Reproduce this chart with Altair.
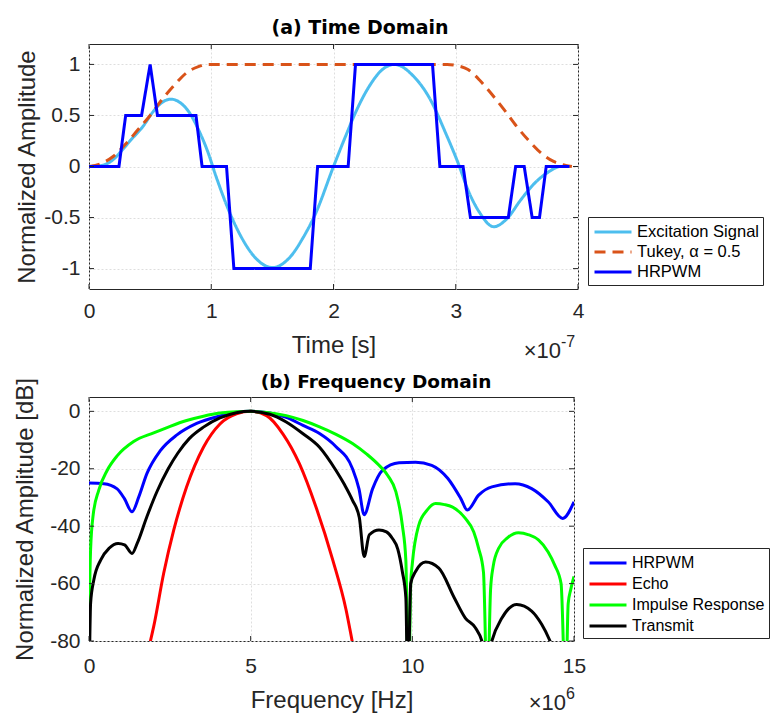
import altair as alt
import pandas as pd

# ---------------- Panel (a): time domain (time in units of 1e-7 s) ----------------
exc_t = [0, 0.1, 0.19, 0.27, 0.35, 0.44, 0.52, 0.6, 0.67, 0.74, 0.82, 0.9, 0.97, 1.04,
         1.15, 1.25, 1.35, 1.5, 1.65, 1.75, 1.85, 2.0, 2.1, 2.2, 2.3, 2.4, 2.5, 2.65,
         2.79, 2.92, 3.03, 3.09, 3.2, 3.31, 3.42, 3.53, 3.64, 3.75, 3.86, 3.93]
exc_v = [0, 0.01, 0.06, 0.16, 0.27, 0.39, 0.53, 0.63, 0.66, 0.63, 0.53, 0.35, 0.15, -0.1,
         -0.45, -0.7, -0.88, -0.99, -0.88, -0.7, -0.47, 0.0, 0.3, 0.58, 0.8, 0.95, 1.0, 0.89,
         0.66, 0.32, 0.0, -0.2, -0.46, -0.59, -0.51, -0.33, -0.17, -0.06, 0.0, 0.0]

tuk_t = [0, 0.1, 0.2, 0.3, 0.4, 0.5, 0.6, 0.7, 0.8, 0.9, 0.96, 2.93, 3.0, 3.1, 3.2, 3.3,
         3.4, 3.5, 3.6, 3.7, 3.8, 3.9, 3.95]
tuk_v = [0, 0.03, 0.1, 0.22, 0.36, 0.5, 0.66, 0.8, 0.92, 0.98, 1.0, 1.0, 0.99, 0.95, 0.84,
         0.7, 0.55, 0.39, 0.25, 0.13, 0.05, 0.01, 0.0]

hr_t = [0, 0.245, 0.3, 0.43, 0.5, 0.56, 0.875, 0.925, 1.125, 1.185, 1.81, 1.87, 2.12,
        2.18, 2.81, 2.87, 3.06, 3.12, 3.43, 3.49, 3.56, 3.625, 3.685, 3.74, 3.93]
hr_v = [0, 0, 0.5, 0.5, 1, 0.5, 0.5, 0, 0, -1, -1, 0, 0, 1, 1, 0, 0, -0.5, -0.5, 0, 0,
        -0.5, -0.5, 0, 0]

top_series = ["Excitation Signal", "Tukey, \u03b1 = 0.5", "HRPWM"]
top_colors = ["#4DBEEE", "#D95319", "#0000FF"]
top_dashes = [[1, 0], [11, 7], [1, 0]]
t_ticks = [0, 1, 2, 3, 4]
a_ticks = [-1, -0.5, 0, 0.5, 1]

# ---------------- Panel (b): frequency domain (frequency in units of 1e6 Hz) ----------------
hrf_f = [0, 0.46, 0.87, 1.1, 1.33, 1.54, 1.79, 2.2, 2.72, 3.33, 4.05, 4.56, 5.0, 5.59,
         6.1, 6.62, 7.13, 7.64, 8.15, 8.35, 8.51, 8.77, 9.08, 9.59, 10.1, 10.6, 11.1,
         11.5, 11.7, 12.05, 12.46, 13.18, 13.69, 14.2, 14.65, 15.0]
hrf_db = [-25, -25.2, -27, -30.5, -35, -29.8, -21.7, -13.8, -8.2, -4.2, -1.6, -0.3, 0,
          -0.6, -2.1, -4.9, -7.7, -12.3, -20, -27, -36, -27, -20.5, -17.9, -17.7, -18.8,
          -23.4, -30.4, -34.4, -29.2, -26.3, -25.2, -26.9, -31.5, -37.3, -31.5]

echo_f = [1.5, 1.9, 2.0, 2.31, 2.62, 3.02, 3.54, 4.05, 4.56, 5.0, 5.49, 6.0, 6.51, 7.02,
          7.54, 7.95, 8.13, 8.5]
echo_db = [-105, -80, -75, -56.4, -41.4, -26.3, -12.5, -4.4, -0.9, 0, -1.5, -7.9, -18.3,
           -33.3, -51.8, -69.1, -79.5, -102]

imp_f = [0, 0.02, 0.05, 0.13, 0.3, 0.56, 0.87, 1.38, 2.0, 2.51, 3.02, 3.54, 4.05, 4.56,
         5.0, 5.5, 6.1, 6.62, 7.13, 7.64, 8.15, 8.6, 8.97, 9.25, 9.49, 9.69, 9.8, 9.88,
         9.95, 10.0, 10.2, 10.45, 10.72, 11.0, 11.23, 11.64, 11.9, 12.05, 12.2, 12.32,
         12.42, 12.5, 12.67, 12.95, 13.28, 13.6, 13.9, 14.2, 14.4, 14.6, 14.74, 14.82,
         14.9, 15.0]
imp_db = [-100, -64, -48, -36, -27.5, -20.6, -15.5, -10.5, -7.5, -5.2, -3.2, -1.7, -0.6,
          -0.1, 0, -0.4, -1.5, -3.2, -5.4, -8, -11.2, -15, -18.8, -22.5, -28, -39.6, -52,
          -100, -60, -53, -39.6, -34.5, -32.1, -32.5, -33.3, -37.3, -42, -47.7, -56, -100,
          -62, -54, -47.7, -44, -42.3, -43, -44.8, -49, -53.5, -60, -100, -67, -62, -57.5]

tx_f = [0, 0.05, 0.15, 0.36, 0.62, 0.9, 1.1, 1.33, 1.49, 1.79, 2.1, 2.45, 2.75, 3.1,
        3.54, 4.05, 4.56, 5.0, 5.59, 6.1, 6.62, 7.13, 7.64, 7.9, 8.15, 8.36, 8.51, 8.67,
        8.97, 9.2, 9.38, 9.55, 9.69, 9.8, 9.86, 9.95, 10.1, 10.41, 10.82, 11.3, 11.64,
        11.95, 12.15, 12.3, 12.46, 12.77, 13.23, 13.69, 14.0, 14.26, 14.6, 15.0]
tx_db = [-100, -66.8, -58.7, -51.8, -47.7, -46, -46.5, -49.5, -46, -36.7, -28, -20,
         -14.5, -9.5, -5.5, -2.3, -0.5, 0, -1.0, -3.7, -7.8, -12.5, -20.6, -25.5, -31,
         -37, -50.6, -43, -41.3, -42, -44.2, -48, -55.8, -65, -100, -60, -55.8, -52.5,
         -54.6, -65, -72, -75.4, -80, -88, -80, -72, -67.3, -69.6, -74.2, -80, -90, -95]

bot_series = ["HRPWM", "Echo", "Impulse Response", "Transmit"]
bot_colors = ["#0000FF", "#FF0000", "#00FF00", "#000000"]
f_ticks = [0, 5, 10, 15]
db_ticks = [-80, -60, -40, -20, 0]

# ---------------- styling ----------------
FONT = "Liberation Sans"
TFONT = "DejaVu Sans"
AX = "#262626"
W1, H1 = 489, 245
W2, H2 = 485, 244
MINUS_FIX = "replace(datum.label, '\u2212', '-')"


def frame(xs, ys, n):
    return pd.DataFrame({"x": xs, "y": ys, "series": n, "i": range(len(xs))})


def axis(values, title, fmt, orient, lpad, tpad):
    return alt.Axis(values=values, title=title, format=fmt, orient=orient, ticks=False,
                    domain=False, grid=True, gridColor="#dedede", gridDash=[2, 2],
                    gridWidth=1, labelFont=FONT, labelFontSize=21, labelColor=AX,
                    labelPadding=lpad, titleFont=FONT, titleFontSize=24,
                    titleFontWeight="normal", titleColor=AX, titlePadding=tpad,
                    labelFlush=False, labelOverlap=False, labelExpr=MINUS_FIX)


def panel(dfs, interps, series, colors, dashes, xdom, ydom, xt, yt, xtitle, ytitle,
          yfmt, xlpad, xtpad, ytpad, W, H, legx, legy, legfs, legrow, exp_text, exp_sup,
          exp_dx, title, title_x, title_y, title_fs):
    xs = alt.Scale(domain=xdom, nice=False, zero=False)
    ys = alt.Scale(domain=ydom, nice=False, zero=False)
    x_enc = alt.X("x:Q", scale=xs, axis=axis(xt, xtitle, "d", "bottom", xlpad, xtpad))
    y_enc = alt.Y("y:Q", scale=ys, axis=axis(yt, ytitle, yfmt, "left", 9, ytpad))
    leg = alt.Legend(title=None, orient="none", legendX=legx, legendY=legy,
                     direction="vertical", symbolType="M-2,0H2", symbolSize=342,
                     symbolStrokeWidth=3, labelFont=FONT, labelFontSize=legfs,
                     labelColor="black", strokeColor=AX, fillColor="white",
                     padding=4, rowPadding=legrow, labelOffset=13, symbolOffset=10)
    layers = []
    for df, ip in zip(dfs, interps):
        enc = dict(x=x_enc, y=y_enc, order="i:Q",
                   color=alt.Color("series:N", scale=alt.Scale(domain=series, range=colors),
                                   legend=leg))
        if dashes is not None:
            enc["strokeDash"] = alt.StrokeDash("series:N",
                                               scale=alt.Scale(domain=series, range=dashes),
                                               legend=leg)
        layers.append(alt.Chart(df).mark_line(strokeWidth=3, clip=True, interpolate=ip)
                      .encode(**enc))
    # inward tick marks on all four sides
    xtk = pd.DataFrame({"x": xt})
    ytk = pd.DataFrame({"y": yt})
    for y0, y1 in [(H, H - 5), (0, 5)]:
        layers.append(alt.Chart(xtk).mark_rule(color=AX, strokeWidth=1).encode(
            x=x_enc, y=alt.value(y0), y2=alt.value(y1)))
    for x0, x1 in [(0, 5), (W - 5, W)]:
        layers.append(alt.Chart(ytk).mark_rule(color=AX, strokeWidth=1).encode(
            y=y_enc, x=alt.value(x0), x2=alt.value(x1)))
    # exponent annotation (x10^n)
    layers.append(alt.Chart(pd.DataFrame({"s": [exp_text]})).mark_text(
        font=FONT, fontSize=22, color=AX, align="right", baseline="alphabetic").encode(
        text="s:N", x=alt.value(W - exp_dx), y=alt.value(H + 69)))
    layers.append(alt.Chart(pd.DataFrame({"s": [exp_sup]})).mark_text(
        font=FONT, fontSize=16, color=AX, align="left", baseline="alphabetic").encode(
        text="s:N", x=alt.value(W - exp_dx), y=alt.value(H + 58)))
    # panel title
    layers.append(alt.Chart(pd.DataFrame({"s": [title]})).mark_text(
        font=TFONT, fontSize=title_fs, fontWeight="bold", color="black", align="center",
        baseline="alphabetic").encode(text="s:N", x=alt.value(title_x),
                                      y=alt.value(title_y)))
    return alt.layer(*layers).properties(width=W, height=H)


top_dfs = [frame(exc_t, exc_v, top_series[0]), frame(tuk_t, tuk_v, top_series[1]),
           frame(hr_t, hr_v, top_series[2])]
top = panel(top_dfs, ["monotone", "monotone", "linear"], top_series, top_colors, top_dashes,
            [0, 4], [-1.2, 1.2], t_ticks, a_ticks, "Time [s]", "Normalized Amplitude",
            "~g", 11, 12, 4, W1, H1, 499, 173, 16.5, 0, "\u00d710", "-7", 17,
            "(a) Time Domain", 271, -10, 19)

bot_dfs = [frame(hrf_f, hrf_db, bot_series[0]), frame(echo_f, echo_db, bot_series[1]),
           frame(imp_f, imp_db, bot_series[2]), frame(tx_f, tx_db, bot_series[3])]
bot = panel(bot_dfs, ["monotone"] * 4, bot_series, bot_colors, None,
            [0, 15], [-80, 5], f_ticks, db_ticks, "Frequency [Hz]",
            "Normalized Amplitude [dB]", "d", 14, 12, 12, W2, H2, 494, 151, 16, 2,
            "\u00d710", "6", 8, "(b) Frequency Domain", 287, -9, 18.5)

chart = alt.vconcat(top, bot, spacing=9).resolve_scale(
    x="independent", y="independent", color="independent", strokeDash="independent"
).resolve_legend(color="independent", strokeDash="independent").configure_view(
    stroke=AX, strokeWidth=1
).properties(
    padding={"left": 13, "top": 18, "right": 0, "bottom": 0},
    background="white"
)

chart.save("out.html", embed_options={"renderer": "svg", "actions": False})
